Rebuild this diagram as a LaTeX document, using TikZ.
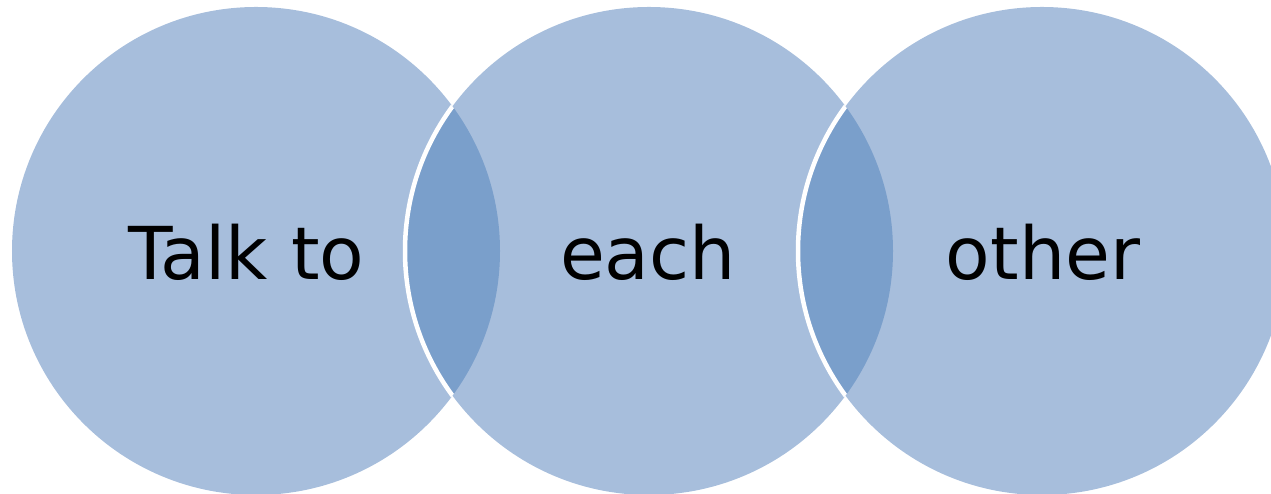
\documentclass[tikz,border=0pt]{standalone}
\usepackage{fontspec}
\setmainfont{DejaVu Sans}
\usepackage{xcolor}
\usetikzlibrary{positioning}
\definecolor{ringfill}{HTML}{A7BEDC}
\definecolor{lensfill}{HTML}{7A9FCB}
\tikzset{
  ring/.style={circle, fill=ringfill, minimum size=9.76cm, inner sep=0pt},
  lens/.style={fill=lensfill, draw=white, line width=0.09cm},
  word/.style={anchor=base, font=\fontsize{41.5}{48}\selectfont, text=black}
}

\begin{document}
\begin{tikzpicture}
  \useasboundingbox (0,0) rectangle (25.42,9.88);
  \node[ring] (talk) at (5.12, 4.86) {};
  \node[ring] (each) at (12.98, 4.86) {};
  \node[ring] (other) at (20.84, 4.86) {};

  % overlaps
  \begin{scope}
    \clip (talk.center) circle[radius=4.88];
    \path[lens] (each.center) circle[radius=4.88];
  \end{scope}
  \begin{scope}
    \clip (each.center) circle[radius=4.88];
    \path[lens] (other.center) circle[radius=4.88];
  \end{scope}

  \node[word] (talklabel) at (4.93, 4.28) {Talk to};
  \node[word] (eachlabel) at (12.96, 4.28) {each};
  \node[word] (otherlabel) at (20.86, 4.28) {other};
\end{tikzpicture}
\end{document}
